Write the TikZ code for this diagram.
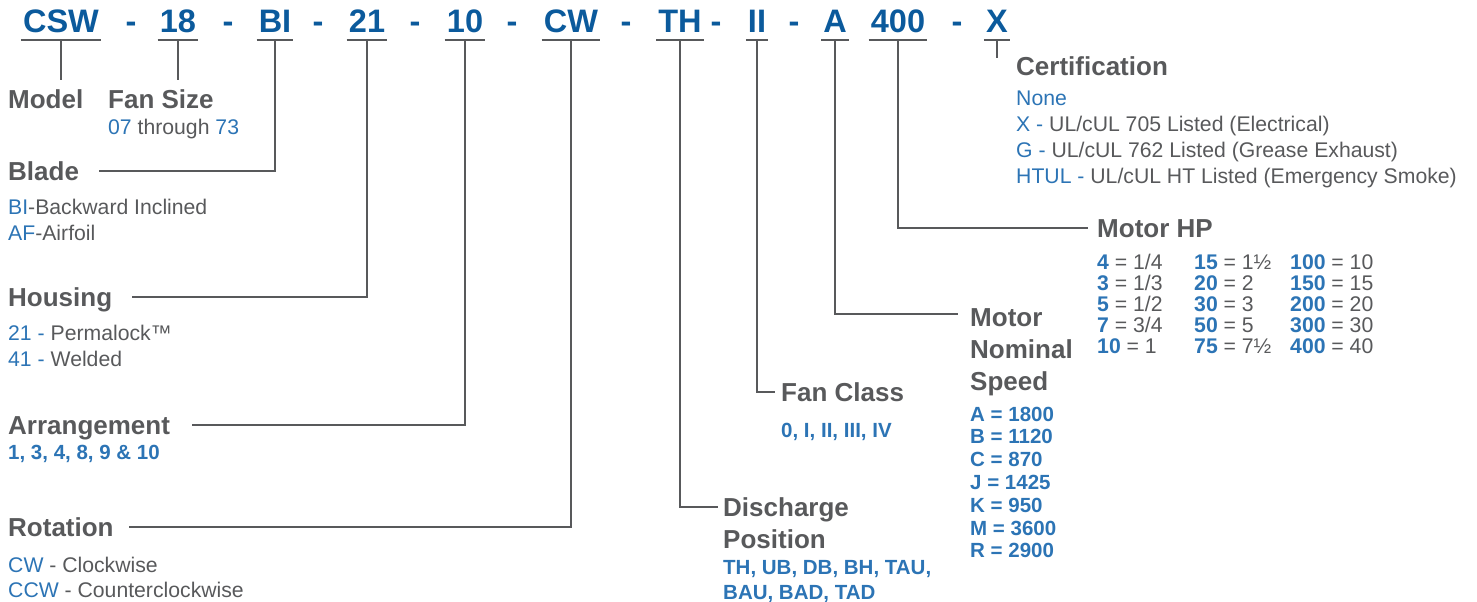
\documentclass[tikz,border=0pt]{standalone}
\usepackage{fontspec}
\setmainfont{Liberation Sans}
\definecolor{codeblue}{HTML}{0B5A9C}
\definecolor{vblue}{HTML}{2C74B5}
\definecolor{tgrey}{HTML}{58595B}
\newcommand\blu[1]{{\color{vblue}#1}}
\newcommand\blb[1]{{\color{vblue}\bfseries #1}}
\tikzset{
  code/.style={font=\bfseries\fontsize{32.5}{32}\selectfont, text=codeblue, anchor=base,
    inner xsep=2pt, inner ysep=7pt, text height=23pt, text depth=0pt},
  hyph/.style={font=\bfseries\fontsize{32.5}{32}\selectfont, text=codeblue, anchor=base, inner sep=0pt},
  head/.style={font=\bfseries\fontsize{26}{26}\selectfont, text=tgrey, anchor=base west,
    inner sep=0pt, text height=18.6pt, text depth=0pt},
  body/.style={font=\fontsize{21.2}{21}\selectfont, text=tgrey, anchor=base west, inner sep=0pt},
  bodyb/.style={body, font=\bfseries\fontsize{20.5}{21}\selectfont, text=vblue},
  conn/.style={draw=tgrey, line width=2.4pt}
}
\begin{document}
\begin{tikzpicture}[x=1pt,y=-1pt]
\useasboundingbox (0,0) rectangle (1477,602);
% code row
\node[code] (csw) at (61,33) {CSW};
\node[hyph] (h1) at (131,33) {-};
\node[code] (fs) at (178,33) {18};
\node[hyph] (h2) at (228,33) {-};
\node[code] (bi) at (275,33) {BI};
\node[hyph] (h3) at (318,33) {-};
\node[code] (r21) at (367,33) {21};
\node[hyph] (h4) at (415,33) {-};
\node[code] (r10) at (465,33) {10};
\node[hyph] (h5) at (512,33) {-};
\node[code] (cw) at (571,33) {CW};
\node[hyph] (h6) at (626,33) {-};
\node[code] (th) at (680,33) {TH};
\node[hyph] (h7) at (716,33) {-};
\node[code] (ii) at (757,33) {II};
\node[hyph] (h8) at (794,33) {-};
\node[code] (a) at (835,33) {A};
\node[code] (hp) at (898,33) {400};
\node[hyph] (h9) at (957,33) {-};
\node[code] (x) at (997,33) {X};
\foreach \n in {csw,fs,bi,r21,r10,cw,th,ii,a,hp,x}
  \draw[conn] (\n.south west) -- (\n.south east);

% headers
\node[head] (model) at (8,108) {Model};
\node[head] (fansize) at (108,108) {Fan Size};
\node[body] (fsv) at (108,134) {\blu{07} through \blu{73}};
\node[head] (blade) at (8,180) {Blade};
\node[body] (bl1) at (8,214) {\blu{BI}-Backward Inclined};
\node[body] (bl2) at (8,240) {\blu{AF}-Airfoil};
\node[head] (housing) at (8,306) {Housing};
\node[body] (ho1) at (8,340) {\blu{21 -} Permalock™};
\node[body] (ho2) at (8,366) {\blu{41 -} Welded};
\node[head] (arr) at (8,434) {Arrangement};
\node[bodyb] (arv) at (8,459) {1, 3, 4, 8, 9 \& 10};
\node[head] (rot) at (8,536) {Rotation};
\node[body] (ro1) at (8,572) {\blu{CW} - Clockwise};
\node[body] (ro2) at (8,597) {\blu{CCW} - Counterclockwise};

\node[head] (disch) at (723,516) {Discharge};
\node[head] (pos) at (723,548) {Position};
\node[bodyb] (dp1) at (723,574) {TH, UB, DB, BH, TAU,};
\node[bodyb] (dp2) at (723,599) {BAU, BAD, TAD};

\node[head] (fanclass) at (781,401) {Fan Class};
\node[bodyb] (fcv) at (781,437) {0, I, II, III, IV};

\node[head] (motor) at (970,326) {Motor};
\node[head] (nominal) at (970,358) {Nominal};
\node[head] (speed) at (970,390) {Speed};
\foreach \t [count=\i from 0] in {A = 1800, B = 1120, C = 870, J = 1425, K = 950, M = 3600, R = 2900}
  \node[bodyb] (sp\i) at (970,421+\i*22.8) {\t};

\node[head] (motorhp) at (1097,237) {Motor HP};
\foreach \c/\v [count=\i from 0] in {4/1\slash 4, 3/1\slash 3, 5/1\slash 2, 7/3\slash 4, 10/1}
  \node[body] (hpa\i) at (1097,269+\i*21) {\blb{\c} = \v};
\foreach \c/\v [count=\i from 0] in {15/1½, 20/2, 30/3, 50/5, 75/7½}
  \node[body] (hpb\i) at (1194,269+\i*21) {\blb{\c} = \v};
\foreach \c/\v [count=\i from 0] in {100/10, 150/15, 200/20, 300/30, 400/40}
  \node[body] (hpc\i) at (1290,269+\i*21) {\blb{\c} = \v};

\node[head] (cert) at (1016,75) {Certification};
\node[body] (ce0) at (1016,105) {\blu{None}};
\node[body] (ce1) at (1016,131) {\blu{X -} UL/cUL 705 Listed (Electrical)};
\node[body] (ce2) at (1016,157) {\blu{G -} UL/cUL 762 Listed (Grease Exhaust)};
\node[body] (ce3) at (1016,183) {\blu{HTUL -} UL/cUL HT Listed (Emergency Smoke)};

% connectors
\draw[conn] (csw.south) -- ([yshift=9pt]model.north -| csw.south);
\draw[conn] (fs.south) -- ([yshift=9pt]fansize.north -| fs.south);
\draw[conn] (bi.south) |- ([xshift=20pt]blade.east);
\draw[conn] (r21.south) |- ([xshift=20pt]housing.east);
\draw[conn] (r10.south) |- ([xshift=22pt]arr.east);
\draw[conn] (cw.south) |- ([xshift=15pt]rot.east);
\draw[conn] (th.south) |- ([xshift=-5pt]disch.west);
\draw[conn] (ii.south) |- ([xshift=-6pt]fanclass.west);
\draw[conn] (a.south) |- ([xshift=-12pt,yshift=3pt]motor.west);
\draw[conn] (hp.south) |- ([xshift=-9pt]motorhp.west);
\draw[conn] (x.south) -- ([yshift=-18pt]x.south);
\end{tikzpicture}
\end{document}
